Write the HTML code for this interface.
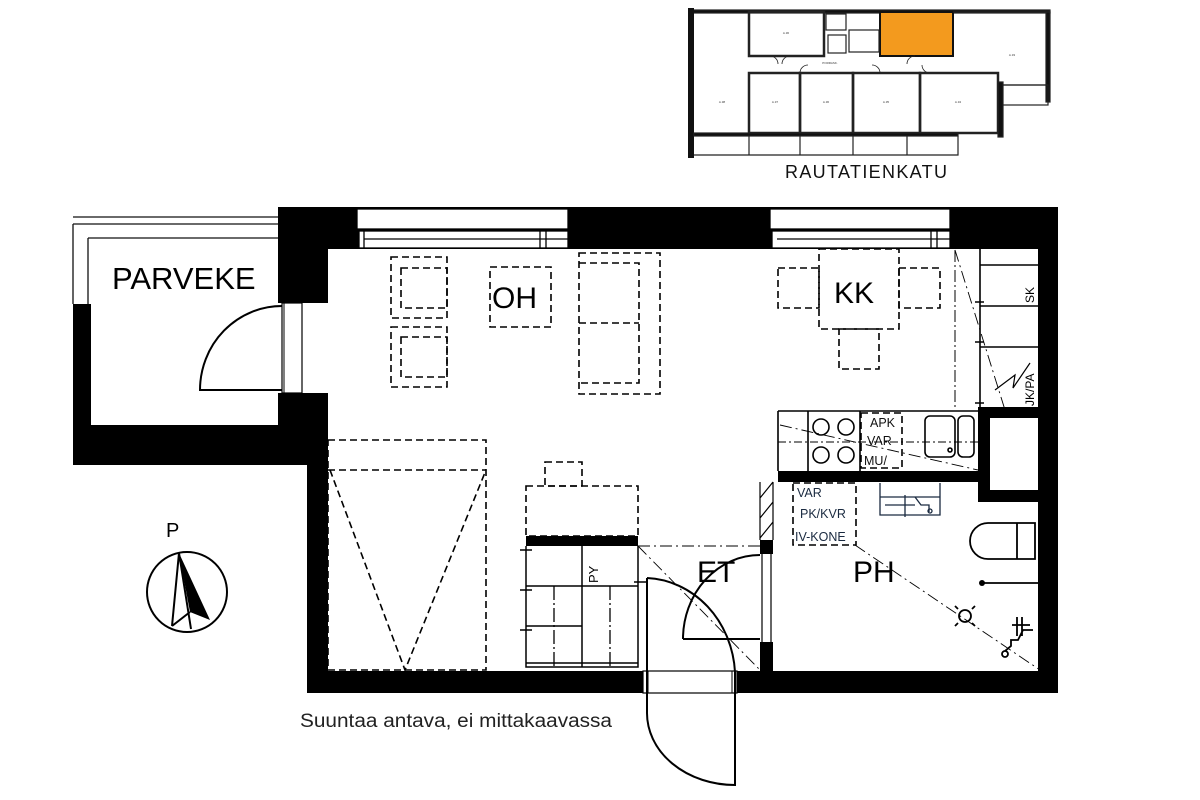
<!DOCTYPE html>
<html><head><meta charset="utf-8"><style>html,body{margin:0;padding:0;background:#fff}svg{display:block}</style></head>
<body>
<svg width="1200" height="800" viewBox="0 0 1200 800" xmlns="http://www.w3.org/2000/svg" font-family="Liberation Sans, sans-serif">
<rect width="1200" height="800" fill="#fff"/>
<!-- key plan -->
<g stroke="#222" fill="none" stroke-width="1.2">
<rect x="690" y="10" width="360" height="3" fill="#111"/>
<rect x="688" y="8" width="6" height="150" fill="#111" stroke="none"/>
<rect x="749" y="12" width="75" height="44" stroke-width="2.5"/>
<rect x="880" y="12" width="73" height="44" fill="#f39a1e" stroke="#111" stroke-width="2"/>
<rect x="826" y="14" width="20" height="16"/>
<rect x="828" y="35" width="18" height="18"/>
<rect x="849" y="30" width="30" height="22"/>
<path d="M953 12 H1048 V85 H998"/>
<rect x="1046" y="12" width="4" height="90" fill="#111"/>
<rect x="998" y="85" width="50" height="20"/>
<rect x="749" y="73" width="51" height="60" stroke-width="2.5"/>
<rect x="800" y="73" width="53" height="60" stroke-width="2.5"/>
<rect x="853" y="73" width="67" height="60" stroke-width="2.5"/>
<rect x="920" y="73" width="78" height="60" stroke-width="2.5"/>
<rect x="998" y="82" width="5" height="55" fill="#111"/>
<rect x="694" y="133" width="264" height="3" fill="#111"/>
<path d="M694 155 H958 V136 M749 136 V155 M800 136 V155 M853 136 V155 M907 136 V155"/>
<path d="M770 56 a8 8 0 0 1 8 8 M790 56 a8 8 0 0 0 -8 8 M800 73 a8 8 0 0 1 8 -8 M880 73 a8 8 0 0 0 -8 -8 M915 56 a8 8 0 0 0 -8 8 M930 73 a8 8 0 0 1 -8 -8" stroke-width="0.8"/>
</g>
<g font-size="3" fill="#333" text-anchor="middle"><text x="786" y="34">A.36</text><text x="722" y="103">A.38</text><text x="775" y="103">A.37</text><text x="826" y="103">A.36</text><text x="886" y="103">A.35</text><text x="958" y="103">A.34</text><text x="1012" y="56">A.33</text><text x="830" y="64">PORRASK.</text></g>
<text x="866" y="178" font-size="18" text-anchor="middle" fill="#111" textLength="162">RAUTATIENKATU</text>

<!-- balcony -->
<g stroke="#111" fill="none" stroke-width="1.3">
<path d="M73 217 H278 M73 224 H278 M88 238 H278 M73 224 V304 M88 238 V304"/>
</g>
<rect x="73" y="304" width="18" height="123" fill="#000"/>
<rect x="73" y="425" width="255" height="40" fill="#000"/>
<text x="112" y="289" font-size="31" fill="#000">PARVEKE</text>
<!-- walls -->
<rect x="278" y="207" width="780" height="42" fill="#000"/>
<rect x="278" y="207" width="50" height="96" fill="#000"/>
<rect x="278" y="393" width="50" height="40" fill="#000"/>
<rect x="307" y="420" width="21" height="273" fill="#000"/>
<rect x="307" y="671" width="336" height="22" fill="#000"/>
<rect x="737" y="671" width="321" height="22" fill="#000"/>
<rect x="1038" y="207" width="20" height="486" fill="#000"/>
<!-- windows -->
<g fill="#fff" stroke="#000" stroke-width="1.3">
<rect x="357" y="209" width="211" height="20"/>
<rect x="359" y="231" width="209" height="17"/>
<rect x="770" y="209" width="180" height="20"/>
<rect x="772" y="231" width="178" height="17"/>
</g>
<g stroke="#000" stroke-width="1.3"><path d="M364 231 V248 M364 239 H568 M540 231 V248 M546 231 V248 M777 239 H950 M937 231 V248 M931 231 V248"/></g>
<!-- balcony door -->
<rect x="282" y="303" width="20" height="90" fill="#fff" stroke="#000" stroke-width="1.2"/>
<path d="M284 303 V393" stroke="#000"/>
<path d="M282 306 A82 84 0 0 0 200 390 H282" fill="none" stroke="#000" stroke-width="2"/>
<!-- interior walls -->
<rect x="778" y="471" width="200" height="11" fill="#000"/>
<rect x="978" y="407" width="12" height="95" fill="#000"/>
<rect x="978" y="407" width="62" height="11" fill="#000"/>
<rect x="978" y="490" width="62" height="12" fill="#000"/>
<rect x="760" y="540" width="13" height="14" fill="#000"/>
<rect x="760" y="642" width="13" height="30" fill="#000"/>
<path d="M760 482 V540 M773 482 V540 M760 498 l13 -16 M760 518 l13 -16 M760 538 l13 -16 M762 553 V642 M771 553 V642" stroke="#000" stroke-width="1.2" fill="none"/>
<!-- main door -->
<rect x="643" y="671" width="94" height="22" fill="#fff" stroke="#000" stroke-width="1.2"/>
<path d="M648 671 V693 M732 671 V693" stroke="#000"/>
<g fill="none" stroke="#000" stroke-width="2">
<path d="M647 578 V712 A88 72 0 0 0 735 785 V672"/>
<path d="M647 578 A92 100 0 0 1 735 672"/>
<path d="M683 639 H760 M683 639 A77 84 0 0 1 760 555"/>
</g>
<!-- wardrobe -->
<rect x="526" y="536" width="112" height="10" fill="#000"/>
<g stroke="#000" stroke-width="1.5" fill="none">
<path d="M526 546 V667 H638 V546 M526 586 H638 M526 626 H582 M582 546 V667 M526 663 H638 M520 550 H532 M520 590 H532 M520 630 H532 M634 582 H646"/>
</g>
<path d="M554 586 V667 M610 586 V667" stroke="#000" stroke-width="1.3" stroke-dasharray="14 3 2 3"/>
<text transform="translate(598 583) rotate(-90)" font-size="13">PY</text>
<!-- dashed furniture -->
<g fill="none" stroke="#000" stroke-width="1.6" stroke-dasharray="7 4">
<rect x="526" y="486" width="112" height="50"/>
<rect x="545" y="462" width="37" height="24"/>
<rect x="328" y="440" width="158" height="230"/>
<path d="M328 470 H486 M330 470 L405 670 L486 470"/>
<rect x="391" y="257" width="56" height="61"/><rect x="401" y="268" width="46" height="40"/>
<rect x="391" y="327" width="56" height="60"/><rect x="401" y="337" width="46" height="40"/>
<rect x="490" y="267" width="61" height="60"/>
<rect x="579" y="253" width="81" height="141"/><path d="M579 263 H639 V383 H579 M579 323 H639"/>
<rect x="819" y="249" width="80" height="80"/>
<rect x="778" y="268" width="41" height="40"/><rect x="899" y="268" width="41" height="40"/>
<rect x="839" y="329" width="40" height="40"/>
<rect x="861" y="413" width="41" height="55"/>
<rect x="793" y="483" width="63" height="62"/>
</g>
<text x="492" y="308" font-size="30">OH</text>
<text x="834" y="303" font-size="30">KK</text>
<text x="697" y="582" font-size="30">ET</text>
<text x="853" y="582" font-size="30">PH</text>
<!-- kitchen -->
<g stroke="#000" stroke-width="1.6" fill="none">
<path d="M778 411 H978 M778 411 V471 M808 411 V471 M860 411 V471"/>
<circle cx="821" cy="427" r="8"/><circle cx="846" cy="427" r="8"/>
<circle cx="821" cy="455" r="8"/><circle cx="846" cy="455" r="8"/>
<rect x="925" y="416" width="30" height="41" rx="5"/>
<rect x="958" y="416" width="16" height="41" rx="5"/>
<circle cx="950" cy="450" r="2"/>
<path d="M980 249 V407 M980 265 H1038 M980 306 H1038 M980 347 H1038 M975 302 H984 M975 342 H984 M975 403 H984"/>
<path d="M995 390 L1015 375 L1013 388 L1030 363" stroke-width="1.2"/>
</g>
<path d="M778 442 H978" stroke="#000" stroke-dasharray="8 3 2 3"/>
<path d="M955 250 V410" stroke="#000" stroke-dasharray="12 3 2 3"/>
<path d="M955 250 L1005 410 M780 425 L978 470" stroke="#000" stroke-width="0.9" stroke-dasharray="12 4 2 4"/>
<text transform="translate(1034 303) rotate(-90)" font-size="12">SK</text>
<text transform="translate(1034 406) rotate(-90)" font-size="12">JK/PA</text>
<g font-size="12.5" fill="#111"><text x="870" y="427">APK</text><text x="867" y="445">VAR</text><text x="864" y="465">MU/</text></g>
<!-- bathroom -->
<g font-size="12.5" fill="#1a2a40"><text x="797" y="497">VAR</text><text x="800" y="518">PK/KVR</text><text x="795" y="541">IV-KONE</text></g>
<g stroke="#1a2a40" stroke-width="1.3" fill="none">
<path d="M880 483 V515 H940 V483 M880 497 H940 M885 505 H915 M905 495 V517 M915 497 l6 8 h8 v7"/>
<circle cx="930" cy="511" r="2"/>
</g>
<g stroke="#000" stroke-width="1.8" fill="none">
<path d="M1035 523 H988 A18 18 0 0 0 988 559 H1035 Z M1017 523 V559"/>
<path d="M982 583 H1040"/>
<circle cx="965" cy="616" r="6"/>
<path d="M958 609 l-3 -3 M972 609 l3 -3 M958 623 l-3 3 M972 623 l3 3"/>
<path d="M1012 625 H1030 M1017 617 V636 M1022 617 V636 M1005 651 l6 -5 V640 h7 l5 -10 h10"/>
<circle cx="1005" cy="654" r="3"/>
</g>
<circle cx="982" cy="583" r="3" fill="#000"/>
<path d="M1041 500 V670" stroke="#000" stroke-width="5" stroke-dasharray="4 2"/>
<path d="M638 546 H760 M638 546 L760 670 M855 545 L1040 670" stroke="#000" stroke-width="0.9" stroke-dasharray="12 4 2 4" fill="none"/>
<!-- compass -->
<text x="166" y="537" font-size="20">P</text>
<circle cx="187" cy="592" r="40" fill="none" stroke="#000" stroke-width="2"/>
<path d="M179 553 L172 626 M179 553 L191 629 M172 626 L190 612" stroke="#000" stroke-width="2" fill="none"/>
<path d="M179 553 L210 620 L190 612 Z" fill="#000"/>
<text x="300" y="727" font-size="19" fill="#222" textLength="312" lengthAdjust="spacingAndGlyphs">Suuntaa antava, ei mittakaavassa</text>
</svg>
</body></html>
